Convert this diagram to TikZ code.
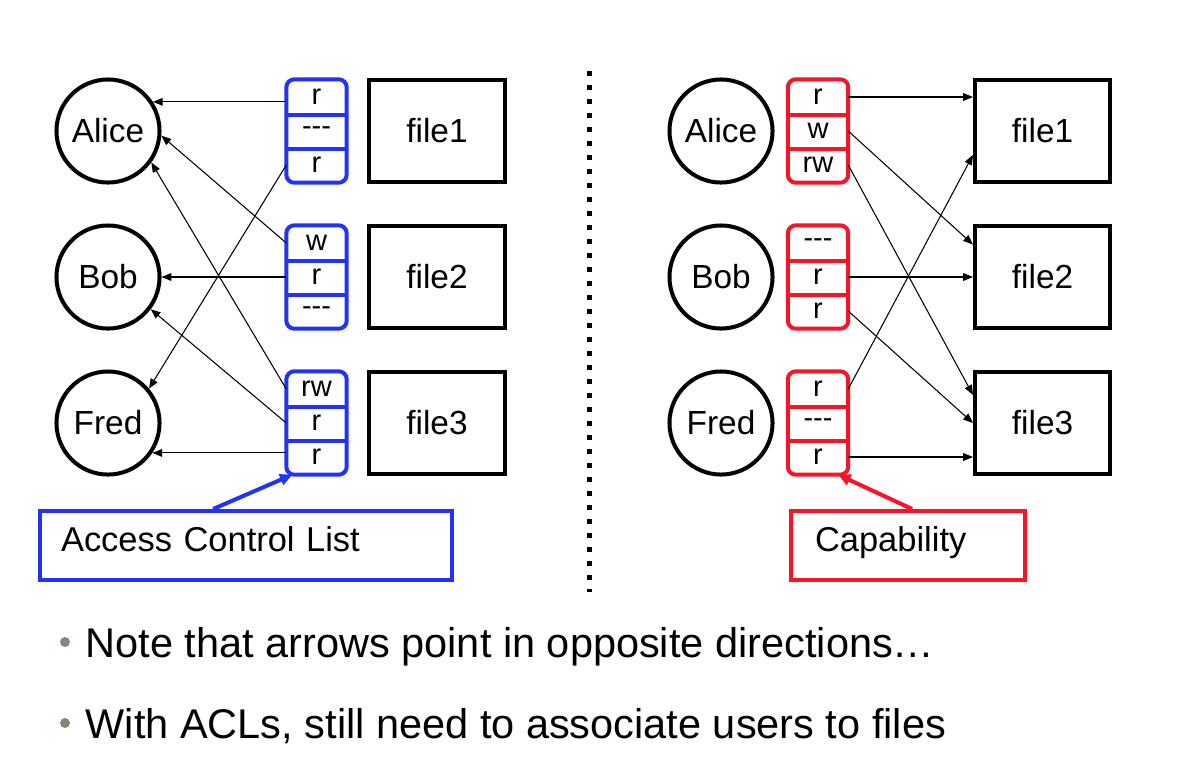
\documentclass[tikz,border=0pt]{standalone}
\usepackage{fontspec}
\setmainfont{Liberation Sans}
\usepackage{xcolor}
\usepackage{tikz}
\usetikzlibrary{arrows.meta,fit}
\definecolor{aclblue}{RGB}{35,50,245}
\definecolor{capred}{RGB}{245,20,40}
\definecolor{dotgray}{RGB}{140,131,118}

\begin{document}
\begin{tikzpicture}[x=0.01cm, y=-0.01cm,
    user/.style={circle, draw, line width=1.14pt, minimum size=1.03cm, inner sep=0pt, font=\fontsize{9.5}{11}\selectfont},
    file/.style={draw, line width=1.14pt, minimum width=1.35cm, minimum height=1.02cm, inner sep=0pt, font=\fontsize{9.5}{11}\selectfont},
    cell/.style={minimum width=0.59cm, minimum height=0.34cm, inner sep=0pt, font=\fontsize{8.25}{9}\selectfont},
    frame/.style={draw, rounded corners=2.3pt, line width=1.14pt, inner sep=0pt},
    link/.style={-{Triangle[length=2.8pt,width=2.2pt]}, line width=0.3pt},
    callout/.style={-{Triangle[length=3.5pt,width=3.2pt]}, line width=1.14pt},
    note/.style={draw, line width=1.14pt, anchor=north west, inner xsep=0.21cm, inner ysep=0pt, text height=0.40cm, text depth=0.29cm, align=left, font=\fontsize{9.8}{11}\selectfont},
    bullettext/.style={anchor=base west, inner sep=0pt, font=\fontsize{11.8}{14}\selectfont},
    bulletdot/.style={circle, fill=dotgray, minimum size=0.1cm, inner sep=0pt}]
  \useasboundingbox (0,0) rectangle (1192,778);

  \node[user] (lalice) at (108,131) {Alice};
  \node[user] (lbob) at (108,277) {Bob};
  \node[user] (lfred) at (108,423) {Fred};
  \node[user] (ralice) at (721,131) {Alice};
  \node[user] (rbob) at (721,277) {Bob};
  \node[user] (rfred) at (721,423) {Fred};

  \node[file] (lfile1) at (437,131) {file1};
  \node[file] (lfile2) at (437,277) {file2};
  \node[file] (lfile3) at (437,423) {file3};
  \node[file] (rfile1) at (1042.5,131) {file1};
  \node[file] (rfile2) at (1042.5,277) {file2};
  \node[file] (rfile3) at (1042.5,423) {file3};

  \foreach \n/\x/\y/\a/\b/\c/\col in {acl1/316.5/131/r/-{}-{}-/r/aclblue, acl2/316.5/277/w/r/-{}-{}-/aclblue, acl3/316.5/423/rw/r/r/aclblue,
      cap1/818/131/r/w/rw/capred, cap2/818/277/-{}-{}-/r/r/capred, cap3/818/423/r/-{}-{}-/r/capred} {
    \node[cell] (\n-a) at (\x,\y-34) {\a};
    \node[cell] (\n-b) at (\x,\y) {\b};
    \node[cell] (\n-c) at (\x,\y+34) {\c};
    \node[frame, draw=\col, fit=(\n-a)(\n-c)] (\n) {};
    \draw[\col, line width=1.14pt] (\n-a.south west) -- (\n-a.south east) (\n-b.south west) -- (\n-b.south east);
  }

  \draw[link] (acl1-a.west |- lalice.33) -- (lalice.33);
  \draw[link] (acl1-c.west) -- (lfred.40);
  \draw[link] (acl2-a.west) -- (lalice.-5);
  \draw[link] (acl2-b.west) -- (lbob.east);
  \draw[link] (acl3-a.west) -- (lalice.-36);
  \draw[link] (acl3-b.west) -- (lbob.-37);
  \draw[link] (acl3-c.west |- lfred.-34) -- (lfred.-34);

  \draw[link] (cap1-a.east) -- (cap1-a.east -| rfile1.west);
  \draw[link] (cap1-b.east) -- (rfile2.155);
  \draw[link] (cap1-c.east) -- (rfile3.158);
  \draw[link] (cap2-b.east) -- (rfile2.west);
  \draw[link] (cap2-c.east) -- (rfile3.west);
  \draw[link] (cap3-a.east) -- (rfile1.-161);
  \draw[link] (cap3-c.east) -- (cap3-c.east -| rfile3.west);

  \draw[line width=1.42pt, dash pattern=on 1.42pt off 2.56pt] (589,71) -- (589,592);

  \node[note, draw=aclblue, text width=3.7cm] (aclnote) at (38,509) {Access Control List};
  \node[note, draw=capred, text width=1.86cm, inner xsep=0.24cm] (capnote) at (789,509) {Capability};
  \draw[callout, aclblue] ([xshift=1.75cm]aclnote.north west) -- ([xshift=0.06cm]acl3-c.south west);
  \draw[callout, capred] ([xshift=1.23cm]capnote.north west) -- ([xshift=-0.1cm]cap3-c.south east);

  \node[bulletdot] (dot1) at (65,642) {};
  \node[bullettext] (line1) at (85,657) {Note that arrows point in opposite directions…};
  \node[bulletdot] (dot2) at (65,723) {};
  \node[bullettext] (line2) at (85,738) {With ACLs, still need to associate users to files};
\end{tikzpicture}
\end{document}
